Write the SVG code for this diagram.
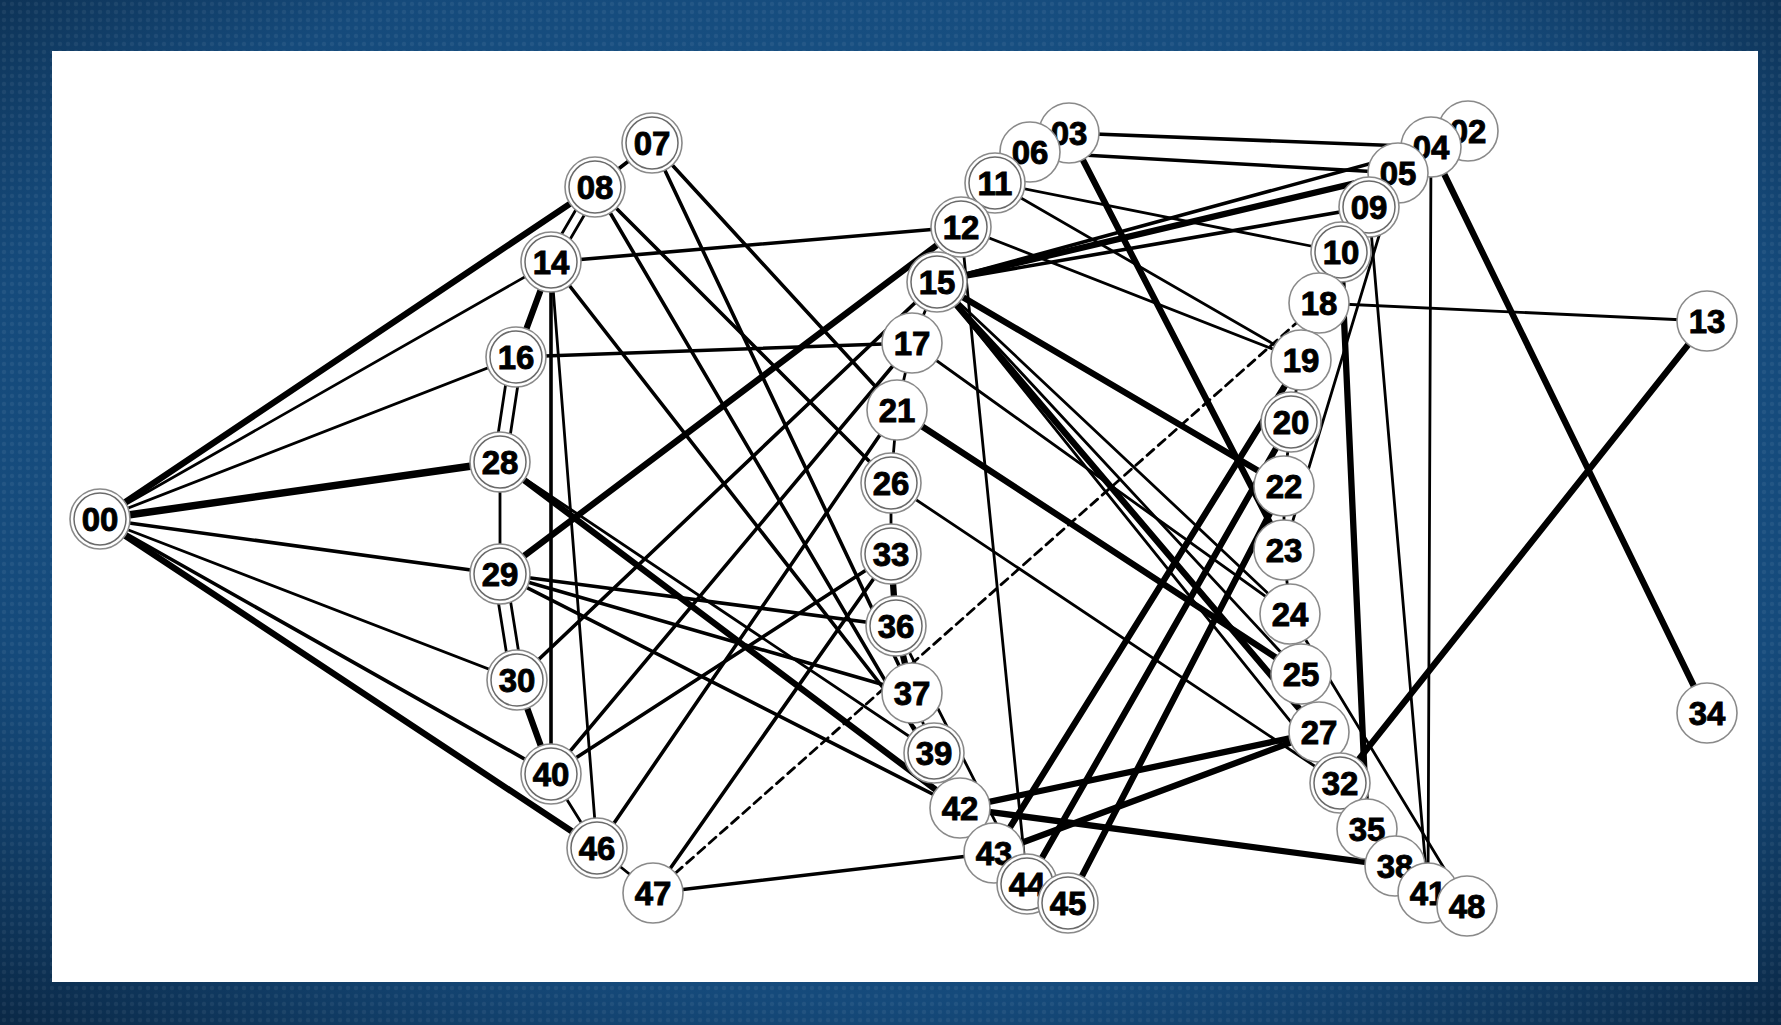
<svg xmlns="http://www.w3.org/2000/svg" width="1781" height="1025" viewBox="0 0 1781 1025">
<defs>
<radialGradient id="bg" cx="50%" cy="45%" r="75%">
<stop offset="0" stop-color="#1d5c92"/>
<stop offset="0.7" stop-color="#154a7b"/>
<stop offset="1" stop-color="#0a2744"/>
</radialGradient>
<pattern id="dots" width="8" height="8" patternUnits="userSpaceOnUse">
<circle cx="4" cy="4" r="2.2" fill="#ffffff" fill-opacity="0.06"/>
</pattern>
<style>
.e{stroke:#000;stroke-width:2.8;stroke-linecap:round;fill:none}
.m{stroke-width:3.6}
.t{stroke-width:6.3}
.x{stroke-width:7.5}
.d{stroke-dasharray:9 6}
.c{fill:#fff;stroke:#8a8a8a;stroke-width:1.6}
.ci{fill:none;stroke:#6a6a6a;stroke-width:1.5}
.l{font-family:"Liberation Sans",Arial,sans-serif;font-weight:bold;font-size:33px;text-anchor:middle;fill:#000;stroke:#000;stroke-width:0.9}
</style>
</defs>
<rect width="1781" height="1025" fill="url(#bg)"/>
<rect width="1781" height="1025" fill="url(#dots)"/>
<rect x="52" y="51" width="1706" height="931" fill="#fff"/>
<g id="connectors">
<line class="e t" x1="100" y1="519" x2="595" y2="187"/>
<line class="e" x1="100" y1="519" x2="551" y2="262"/>
<line class="e" x1="100" y1="519" x2="516" y2="357"/>
<line class="e x" x1="100" y1="519" x2="500" y2="462"/>
<line class="e m" x1="100" y1="519" x2="500" y2="574"/>
<line class="e" x1="100" y1="519" x2="517" y2="680"/>
<line class="e m" x1="100" y1="519" x2="551" y2="774"/>
<line class="e t" x1="100" y1="519" x2="597" y2="848"/>
<line class="e m" x1="652" y1="143" x2="595" y2="187"/>
<line class="e" x1="599" y1="190" x2="555" y2="265"/>
<line class="e" x1="591" y1="184" x2="547" y2="259"/>
<line class="e t" x1="551" y1="262" x2="516" y2="357"/>
<line class="e" x1="522" y1="358" x2="506" y2="463"/>
<line class="e" x1="510" y1="356" x2="494" y2="461"/>
<line class="e" x1="500" y1="462" x2="500" y2="574"/>
<line class="e" x1="506" y1="573" x2="523" y2="679"/>
<line class="e" x1="494" y1="575" x2="511" y2="681"/>
<line class="e t" x1="517" y1="680" x2="551" y2="774"/>
<line class="e" x1="551" y1="774" x2="597" y2="848"/>
<line class="e" x1="597" y1="848" x2="653" y2="893"/>
<line class="e m" x1="551" y1="262" x2="551" y2="774"/>
<line class="e" x1="551" y1="262" x2="597" y2="848"/>
<line class="e m" x1="551" y1="262" x2="961" y2="227"/>
<line class="e m" x1="516" y1="357" x2="912" y2="343"/>
<line class="e t" x1="500" y1="574" x2="961" y2="227"/>
<line class="e t" x1="500" y1="462" x2="960" y2="808"/>
<line class="e" x1="500" y1="462" x2="934" y2="753"/>
<line class="e m" x1="500" y1="574" x2="896" y2="626"/>
<line class="e m" x1="500" y1="574" x2="912" y2="693"/>
<line class="e m" x1="500" y1="574" x2="960" y2="808"/>
<line class="e m" x1="517" y1="680" x2="937" y2="282"/>
<line class="e m" x1="551" y1="774" x2="912" y2="343"/>
<line class="e m" x1="551" y1="774" x2="891" y2="554"/>
<line class="e m" x1="597" y1="848" x2="897" y2="410"/>
<line class="e m" x1="653" y1="893" x2="891" y2="554"/>
<line class="e d" x1="653" y1="893" x2="1319" y2="303"/>
<line class="e m" x1="653" y1="893" x2="994" y2="853"/>
<line class="e m" x1="652" y1="143" x2="897" y2="410"/>
<line class="e m" x1="652" y1="143" x2="912" y2="693"/>
<line class="e m" x1="595" y1="187" x2="891" y2="483"/>
<line class="e m" x1="595" y1="187" x2="960" y2="808"/>
<line class="e m" x1="551" y1="262" x2="934" y2="753"/>
<line class="e" x1="937" y1="282" x2="912" y2="343"/>
<line class="e" x1="912" y1="343" x2="897" y2="410"/>
<line class="e" x1="897" y1="410" x2="891" y2="483"/>
<line class="e" x1="891" y1="483" x2="891" y2="554"/>
<line class="e t" x1="891" y1="554" x2="896" y2="626"/>
<line class="e t" x1="896" y1="626" x2="912" y2="693"/>
<line class="e" x1="912" y1="693" x2="934" y2="753"/>
<line class="e" x1="934" y1="753" x2="960" y2="808"/>
<line class="e m" x1="1069" y1="133" x2="1431" y2="147"/>
<line class="e m" x1="1030" y1="152" x2="1398" y2="173"/>
<line class="e t" x1="937" y1="282" x2="1398" y2="173"/>
<line class="e m" x1="937" y1="282" x2="1431" y2="147"/>
<line class="e m" x1="937" y1="282" x2="1369" y2="207"/>
<line class="e" x1="995" y1="183" x2="1341" y2="252"/>
<line class="e" x1="995" y1="183" x2="1301" y2="360"/>
<line class="e" x1="961" y1="227" x2="1301" y2="360"/>
<line class="e t" x1="1069" y1="133" x2="1284" y2="550"/>
<line class="e t" x1="937" y1="282" x2="1284" y2="486"/>
<line class="e t" x1="937" y1="282" x2="1319" y2="732"/>
<line class="e t" x1="897" y1="410" x2="1301" y2="674"/>
<line class="e" x1="937" y1="282" x2="1290" y2="614"/>
<line class="e" x1="937" y1="282" x2="1301" y2="674"/>
<line class="e" x1="937" y1="282" x2="1340" y2="783"/>
<line class="e" x1="912" y1="343" x2="1290" y2="614"/>
<line class="e" x1="891" y1="483" x2="1340" y2="783"/>
<line class="e" x1="961" y1="227" x2="1027" y2="884"/>
<line class="e" x1="896" y1="626" x2="1027" y2="884"/>
<line class="e t" x1="960" y1="808" x2="1319" y2="732"/>
<line class="e t" x1="960" y1="808" x2="1395" y2="866"/>
<line class="e t" x1="994" y1="853" x2="1319" y2="732"/>
<line class="e t" x1="994" y1="853" x2="1301" y2="360"/>
<line class="e t" x1="1027" y1="884" x2="1291" y2="422"/>
<line class="e t" x1="1068" y1="903" x2="1284" y2="486"/>
<line class="e" x1="1398" y1="173" x2="1284" y2="550"/>
<line class="e" x1="1369" y1="207" x2="1428" y2="893"/>
<line class="e" x1="1431" y1="147" x2="1428" y2="893"/>
<line class="e t" x1="1341" y1="252" x2="1367" y2="829"/>
<line class="e t" x1="1707" y1="321" x2="1340" y2="783"/>
<line class="e t" x1="1431" y1="147" x2="1707" y2="713"/>
<line class="e" x1="1319" y1="303" x2="1707" y2="321"/>
<line class="e" x1="1290" y1="614" x2="1467" y2="906"/>
<line class="e" x1="1319" y1="303" x2="1301" y2="360"/>
<line class="e" x1="1301" y1="360" x2="1291" y2="422"/>
<line class="e" x1="1291" y1="422" x2="1284" y2="486"/>
<line class="e" x1="1284" y1="486" x2="1284" y2="550"/>
<line class="e" x1="1284" y1="550" x2="1290" y2="614"/>
<line class="e" x1="1290" y1="614" x2="1301" y2="674"/>
<line class="e" x1="1301" y1="674" x2="1319" y2="732"/>
</g>
<g id="n00"><circle class="c" cx="100" cy="519" r="30"/><circle class="ci" cx="100" cy="519" r="26"/><text class="l" x="100" y="531">00</text></g>
<g id="n02"><circle class="c" cx="1468" cy="131" r="30"/><text class="l" x="1468" y="143">02</text></g>
<g id="n03"><circle class="c" cx="1069" cy="133" r="30"/><text class="l" x="1069" y="145">03</text></g>
<g id="n04"><circle class="c" cx="1431" cy="147" r="30"/><text class="l" x="1431" y="159">04</text></g>
<g id="n05"><circle class="c" cx="1398" cy="173" r="30"/><text class="l" x="1398" y="185">05</text></g>
<g id="n06"><circle class="c" cx="1030" cy="152" r="30"/><text class="l" x="1030" y="164">06</text></g>
<g id="n07"><circle class="c" cx="652" cy="143" r="30"/><circle class="ci" cx="652" cy="143" r="26"/><text class="l" x="652" y="155">07</text></g>
<g id="n08"><circle class="c" cx="595" cy="187" r="30"/><circle class="ci" cx="595" cy="187" r="26"/><text class="l" x="595" y="199">08</text></g>
<g id="n09"><circle class="c" cx="1369" cy="207" r="30"/><circle class="ci" cx="1369" cy="207" r="26"/><text class="l" x="1369" y="219">09</text></g>
<g id="n10"><circle class="c" cx="1341" cy="252" r="30"/><circle class="ci" cx="1341" cy="252" r="26"/><text class="l" x="1341" y="264">10</text></g>
<g id="n11"><circle class="c" cx="995" cy="183" r="30"/><circle class="ci" cx="995" cy="183" r="26"/><text class="l" x="995" y="195">11</text></g>
<g id="n12"><circle class="c" cx="961" cy="227" r="30"/><circle class="ci" cx="961" cy="227" r="26"/><text class="l" x="961" y="239">12</text></g>
<g id="n13"><circle class="c" cx="1707" cy="321" r="30"/><text class="l" x="1707" y="333">13</text></g>
<g id="n14"><circle class="c" cx="551" cy="262" r="30"/><circle class="ci" cx="551" cy="262" r="26"/><text class="l" x="551" y="274">14</text></g>
<g id="n15"><circle class="c" cx="937" cy="282" r="30"/><circle class="ci" cx="937" cy="282" r="26"/><text class="l" x="937" y="294">15</text></g>
<g id="n16"><circle class="c" cx="516" cy="357" r="30"/><circle class="ci" cx="516" cy="357" r="26"/><text class="l" x="516" y="369">16</text></g>
<g id="n17"><circle class="c" cx="912" cy="343" r="30"/><text class="l" x="912" y="355">17</text></g>
<g id="n18"><circle class="c" cx="1319" cy="303" r="30"/><text class="l" x="1319" y="315">18</text></g>
<g id="n19"><circle class="c" cx="1301" cy="360" r="30"/><text class="l" x="1301" y="372">19</text></g>
<g id="n20"><circle class="c" cx="1291" cy="422" r="30"/><circle class="ci" cx="1291" cy="422" r="26"/><text class="l" x="1291" y="434">20</text></g>
<g id="n21"><circle class="c" cx="897" cy="410" r="30"/><text class="l" x="897" y="422">21</text></g>
<g id="n22"><circle class="c" cx="1284" cy="486" r="30"/><text class="l" x="1284" y="498">22</text></g>
<g id="n23"><circle class="c" cx="1284" cy="550" r="30"/><text class="l" x="1284" y="562">23</text></g>
<g id="n24"><circle class="c" cx="1290" cy="614" r="30"/><text class="l" x="1290" y="626">24</text></g>
<g id="n25"><circle class="c" cx="1301" cy="674" r="30"/><text class="l" x="1301" y="686">25</text></g>
<g id="n26"><circle class="c" cx="891" cy="483" r="30"/><circle class="ci" cx="891" cy="483" r="26"/><text class="l" x="891" y="495">26</text></g>
<g id="n27"><circle class="c" cx="1319" cy="732" r="30"/><text class="l" x="1319" y="744">27</text></g>
<g id="n28"><circle class="c" cx="500" cy="462" r="30"/><circle class="ci" cx="500" cy="462" r="26"/><text class="l" x="500" y="474">28</text></g>
<g id="n29"><circle class="c" cx="500" cy="574" r="30"/><circle class="ci" cx="500" cy="574" r="26"/><text class="l" x="500" y="586">29</text></g>
<g id="n30"><circle class="c" cx="517" cy="680" r="30"/><circle class="ci" cx="517" cy="680" r="26"/><text class="l" x="517" y="692">30</text></g>
<g id="n32"><circle class="c" cx="1340" cy="783" r="30"/><circle class="ci" cx="1340" cy="783" r="26"/><text class="l" x="1340" y="795">32</text></g>
<g id="n33"><circle class="c" cx="891" cy="554" r="30"/><circle class="ci" cx="891" cy="554" r="26"/><text class="l" x="891" y="566">33</text></g>
<g id="n34"><circle class="c" cx="1707" cy="713" r="30"/><text class="l" x="1707" y="725">34</text></g>
<g id="n35"><circle class="c" cx="1367" cy="829" r="30"/><text class="l" x="1367" y="841">35</text></g>
<g id="n36"><circle class="c" cx="896" cy="626" r="30"/><circle class="ci" cx="896" cy="626" r="26"/><text class="l" x="896" y="638">36</text></g>
<g id="n37"><circle class="c" cx="912" cy="693" r="30"/><text class="l" x="912" y="705">37</text></g>
<g id="n38"><circle class="c" cx="1395" cy="866" r="30"/><text class="l" x="1395" y="878">38</text></g>
<g id="n39"><circle class="c" cx="934" cy="753" r="30"/><circle class="ci" cx="934" cy="753" r="26"/><text class="l" x="934" y="765">39</text></g>
<g id="n40"><circle class="c" cx="551" cy="774" r="30"/><circle class="ci" cx="551" cy="774" r="26"/><text class="l" x="551" y="786">40</text></g>
<g id="n41"><circle class="c" cx="1428" cy="893" r="30"/><text class="l" x="1428" y="905">41</text></g>
<g id="n42"><circle class="c" cx="960" cy="808" r="30"/><text class="l" x="960" y="820">42</text></g>
<g id="n43"><circle class="c" cx="994" cy="853" r="30"/><text class="l" x="994" y="865">43</text></g>
<g id="n44"><circle class="c" cx="1027" cy="884" r="30"/><circle class="ci" cx="1027" cy="884" r="26"/><text class="l" x="1027" y="896">44</text></g>
<g id="n45"><circle class="c" cx="1068" cy="903" r="30"/><circle class="ci" cx="1068" cy="903" r="26"/><text class="l" x="1068" y="915">45</text></g>
<g id="n46"><circle class="c" cx="597" cy="848" r="30"/><circle class="ci" cx="597" cy="848" r="26"/><text class="l" x="597" y="860">46</text></g>
<g id="n47"><circle class="c" cx="653" cy="893" r="30"/><text class="l" x="653" y="905">47</text></g>
<g id="n48"><circle class="c" cx="1467" cy="906" r="30"/><text class="l" x="1467" y="918">48</text></g>
</svg>
